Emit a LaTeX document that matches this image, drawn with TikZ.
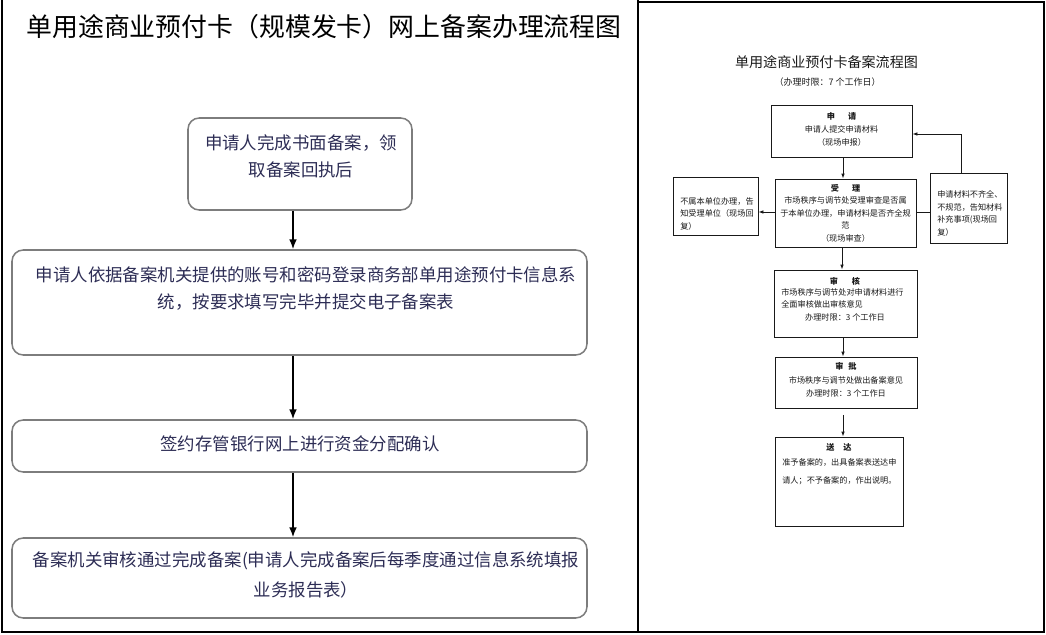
\documentclass[tikz,border=0pt]{standalone}
\usepackage{fontspec}
\setmainfont{Noto Sans CJK SC}
\usetikzlibrary{arrows.meta,fit}
\definecolor{leftink}{RGB}{45,45,85}
\definecolor{leftedge}{RGB}{125,125,125}
\definecolor{scanink}{RGB}{25,25,25}

\begin{document}
\begin{tikzpicture}[x=0.025cm,y=-0.025cm,
  lbox/.style={draw=leftedge,line width=1.1pt,rounded corners=8pt,inner sep=0pt},
  ltext/.style={text=leftink,font=\fontsize{12.4}{19.5}\selectfont,align=center,inner sep=0pt},
  larrow/.style={-{Latex[length=7pt,width=5.5pt]},line width=1.1pt},
  rbox/.style={draw=scanink,line width=0.7pt,inner sep=0pt},
  rtext/.style={text=scanink,font=\fontsize{5.8}{8.9}\selectfont,inner sep=0pt},
  rhead/.style={rtext,font=\fontsize{5.8}{8.9}\selectfont\bfseries},
  rarrow/.style={-{Latex[length=3.5pt,width=2.6pt]},line width=0.6pt,draw=scanink}]
\useasboundingbox (0,0) rectangle (1046,635);

% frames
\draw[line width=1.4pt] (2,0) -- (2,632) -- (1044,632) -- (1044,2) -- (638,2);
\draw[line width=1.4pt] (638,0) -- (638,632);

% left one
\node[font=\fontsize{18.4}{20}\selectfont] (ltitle) at (324,27) {单用途商业预付卡（规模发卡）网上备案办理流程图};

\node[lbox,fit={(188,118) (412,210)}] (receipt) {};
\node[ltext] (receipt-t) at (301,156.5) {申请人完成书面备案，领\\取备案回执后};

\node[lbox,fit={(12,250) (587,355)}] (login) {};
\node[ltext] (login-t) at (306,288.5) {申请人依据备案机关提供的账号和密码登录商务部单用途预付卡信息系\\统，按要求填写完毕并提交电子备案表};

\node[lbox,fit={(12,420) (587,472)}] (confirm) {};
\node[ltext] (confirm-t) at (300,444) {签约存管银行网上进行资金分配确认};

\node[lbox,fit={(12,538) (587,618)}] (record) {};
\node[ltext,font=\fontsize{12.4}{21}\selectfont] (record-t) at (306,575) {备案机关审核通过完成备案(申请人完成备案后每季度通过信息系统填报\\业务报告表）};

\draw[larrow] (receipt.south -| 293,0) -- (login.north -| 293,0);
\draw[larrow] (login.south -| 293,0) -- (confirm.north -| 293,0);
\draw[larrow] (confirm.south -| 293,0) -- (record.north -| 293,0);

% right one
\node[text=scanink,font=\fontsize{10}{12}\selectfont] (rtitle) at (826.5,62.5) {单用途商业预付卡备案流程图};
\node[text=scanink,font=\fontsize{6.4}{8}\selectfont] (rsub) at (827.5,82) {（办理时限：7 个工作日）};

\node[rbox,fit={(771,105) (912,157)}] (req) {};
\node[rhead] (req-h) at (841.5,116) {申\hspace{1.6em}请};
\node[rtext,align=center,font=\fontsize{5.8}{9.2}\selectfont] (req-t) at (841.5,135.5) {申请人提交申请材料\\（现场申报）};

\node[rbox,fit={(775,179) (916,247)}] (acc) {};
\node[rhead] (acc-h) at (845.5,188) {受\hspace{1.6em}理};
\node[rtext,align=center] (acc-t) at (845.5,219.5) {市场秩序与调节处受理审查是否属\\于本单位办理，申请材料是否齐全规\\范\\（现场审查）};

\node[rbox,fit={(673,177) (758,235)}] (outside) {};
\node[rtext,align=left,anchor=west] (outside-t) at (680,213.5) {不属本单位办理，告\\知受理单位（现场回\\复）};

\node[rbox,fit={(930,173) (1007,243)}] (supplement) {};
\node[rtext,align=left,anchor=west] (supplement-t) at (937,213.5) {申请材料不齐全、\\不规范，告知材料\\补充事项(现场回\\复）};

\node[rbox,fit={(774,270) (917,337)}] (audit) {};
\node[rhead] (audit-h) at (845,281) {审\hspace{1.7em}核};
\node[rtext,align=left,anchor=west] (audit-b) at (781,298.5) {市场秩序与调节处对申请材料进行\\全面审核做出审核意见};
\node[rtext] (audit-c) at (845,317) {办理时限：3 个工作日};

\node[rbox,fit={(775,357) (917,408)}] (approve) {};
\node[rhead] (approve-h) at (846,366) {审\hspace{0.6em}批};
\node[rtext,align=center,font=\fontsize{5.8}{9}\selectfont] (approve-t) at (846,387) {市场秩序与调节处做出备案意见\\办理时限：3 个工作日};

\node[rbox,fit={(775,437) (903,526)}] (deliver) {};
\node[rhead] (deliver-h) at (839,447) {送\hspace{1.1em}达};
\node[rtext,align=left,anchor=west,font=\fontsize{5.8}{12.8}\selectfont] (deliver-b) at (782,472) {准予备案的，出具备案表送达申\\请人；不予备案的，作出说明。};

% connectors
\draw[rarrow] (req.south -| 843,0) -- (acc.north -| 843,0);
\draw[rarrow] (acc.west |- 0,212) -- (outside.east |- 0,212);
\draw[line width=0.6pt,scanink] (acc.east |- 0,212) -- (supplement.west |- 0,212);
\draw[rarrow] (supplement.north -| 961,0) |- (req.east |- 0,134);
\draw[rarrow] (acc.south -| 842,0) -- (audit.north -| 842,0);
\draw[rarrow] (audit.south -| 843,0) -- (approve.north -| 843,0);
\coordinate (gap) at (843,415);
\draw[rarrow] (gap) -- (deliver.north -| gap);

\end{tikzpicture}
\end{document}
